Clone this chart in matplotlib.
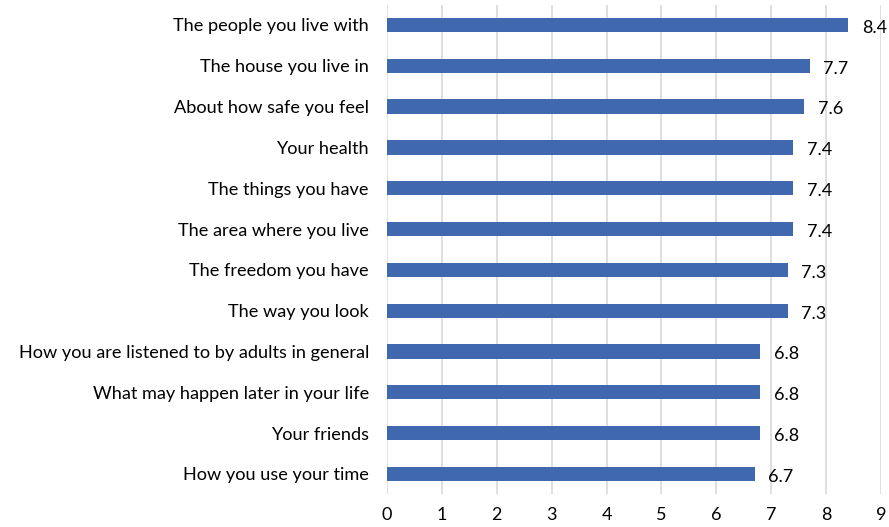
import matplotlib
matplotlib.use("Agg")
import matplotlib.pyplot as plt

categories = [
    "The people you live with",
    "The house you live in",
    "About how safe you feel",
    "Your health",
    "The things you have",
    "The area where you live",
    "The freedom you have",
    "The way you look",
    "How you are listened to by adults in general",
    "What may happen later in your life",
    "Your friends",
    "How you use your time",
]
values = [8.4, 7.7, 7.6, 7.4, 7.4, 7.4, 7.3, 7.3, 6.8, 6.8, 6.8, 6.7]
xticks = list(range(0, 10))

plt.rcParams['font.family'] = ['Lato', 'DejaVu Sans']

fig = plt.figure(figsize=(8.89, 5.27), dpi=100)
ax = fig.add_axes([0.4353, 0.062, 0.5557, 0.9293])

ypos = list(range(len(categories)))
ax.barh(ypos, values, height=0.35, color="#3F68AF", zorder=3)
for y, v in zip(ypos, values):
    ax.text(v + 0.25, y + 0.07, f"{v:.1f}", va="center", ha="left", fontsize=13, color="#000000")

ax.set_yticks(ypos)
ax.set_yticklabels(categories, fontsize=13.1)
ax.set_ylim(len(categories) - 0.5, -0.5)
ax.set_xlim(0, 9)
ax.set_xticks(xticks)
ax.set_xticklabels([str(t) for t in xticks], fontsize=13)
ax.grid(axis="x", color="#D9D9D9", linewidth=1.2, zorder=0)
for s in ax.spines.values():
    s.set_visible(False)
ax.tick_params(axis="both", length=0)
ax.tick_params(axis="y", pad=13)
ax.tick_params(axis="x", pad=9)

fig.savefig("out.png", dpi=100)
